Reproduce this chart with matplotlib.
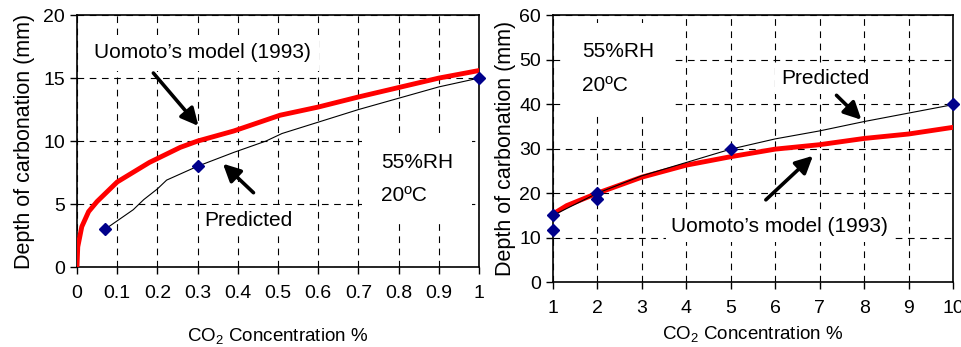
import matplotlib
matplotlib.use("Agg")
import matplotlib.pyplot as plt

plt.rcParams['font.family'] = ['Liberation Sans', 'DejaVu Sans']
plt.rcParams['mathtext.fontset'] = 'custom'
plt.rcParams['mathtext.rm'] = 'Liberation Sans'
plt.rcParams['mathtext.it'] = 'Liberation Sans:italic'

# ---- left panel: CO2 0-1 %
left_model_x = [0, 0.002, 0.012, 0.029, 0.05, 0.1, 0.18, 0.257, 0.3, 0.39, 0.505, 0.6, 0.7, 0.8, 0.9, 1.0]
left_model_y = [0, 1.6, 3.2, 4.4, 5.2, 6.75, 8.3, 9.5, 10.0, 10.8, 12.05, 12.7, 13.5, 14.25, 15.0, 15.6]
left_pred_x = [0.07, 0.14, 0.166, 0.2, 0.223, 0.3, 0.39, 0.47, 0.51, 0.6, 0.7, 0.8, 0.9, 1.0]
left_pred_y = [3.0, 4.55, 5.35, 6.2, 6.9, 8.0, 9.1, 10.0, 10.6, 11.5, 12.5, 13.4, 14.3, 15.0]
left_meas_x = [0.07, 0.3, 1.0]
left_meas_y = [3.0, 8.0, 15.0]
left_xticks = [0, 0.1, 0.2, 0.3, 0.4, 0.5, 0.6, 0.7, 0.8, 0.9, 1.0]
left_xticklabels = ['0', '0.1', '0.2', '0.3', '0.4', '0.5', '0.6', '0.7', '0.8', '0.9', '1']
left_yticks = [0, 5, 10, 15, 20]

# ---- right panel: CO2 1-10 %
right_model_x = [1, 1.31, 2, 3, 4, 5, 6, 7, 8, 9, 10]
right_model_y = [15.3, 17.2, 20.0, 23.6, 26.3, 28.2, 29.9, 30.9, 32.3, 33.3, 34.8]
right_pred_x = [1, 2, 3, 4, 5, 6, 7, 8, 10]
right_pred_y = [15.0, 20.0, 23.9, 26.9, 29.9, 32.2, 34.0, 36.1, 39.9]
right_meas_x = [1, 1, 2, 2, 5, 10]
right_meas_y = [15.0, 11.7, 20.0, 18.8, 30.0, 40.0]
right_xticks = [1, 2, 3, 4, 5, 6, 7, 8, 9, 10]
right_yticks = [0, 10, 20, 30, 40, 50, 60]

RED = '#ff0000'
NAVY = '#00008b'
FS_TICK = 14
FS_XLAB = 13.5
FS_YLAB = 15.5
FS_ANN = 15

fig = plt.figure(figsize=(9.62, 3.47), dpi=100)
ax1 = fig.add_axes([0.080, 0.2305, 0.418, 0.726])
ax2 = fig.add_axes([0.5748, 0.187, 0.4158, 0.769])


def style_axes(ax):
    ax.grid(True, color='black', linestyle=(0, (6, 5)), linewidth=0.8)
    ax.set_axisbelow(True)
    for s in ax.spines.values():
        s.set_linewidth(1.2)
        s.set_color('black')
    ax.tick_params(direction='out', length=5, width=1, labelsize=FS_TICK, colors='black')
    ax.tick_params(axis='x', pad=8)


arrow = dict(arrowstyle='-|>', color='black', lw=2.6, mutation_scale=26, shrinkA=0, shrinkB=0)
box = dict(facecolor='white', edgecolor='none', pad=4)

# left
style_axes(ax1)
ax1.plot(left_model_x, left_model_y, color=RED, lw=3.5, zorder=3)
ax1.plot(left_pred_x, left_pred_y, color='black', lw=0.8, zorder=3)
ax1.plot(left_meas_x, left_meas_y, linestyle='none', marker='D', markersize=6.5,
         color=NAVY, zorder=4, clip_on=False)
ax1.set_xlim(0, 1)
ax1.set_ylim(0, 20)
ax1.set_xticks(left_xticks)
ax1.set_xticklabels(left_xticklabels)
ax1.set_yticks(left_yticks)
ax1.set_xlabel('CO$_2$ Concentration %', fontsize=FS_XLAB, labelpad=17)
ax1.set_ylabel('Depth of carbonation (mm)', fontsize=FS_YLAB, labelpad=6)

ax1.text(0.312, 17.0, 'Uomoto\u2019s model (1993)', fontsize=FS_ANN, ha='center', va='center',
         bbox=dict(facecolor='white', edgecolor='none', pad=6), zorder=2)
ax1.annotate('', xy=(0.302, 11.2), xytext=(0.19, 15.4), arrowprops=arrow, zorder=5)
ax1.text(0.427, 3.7, 'Predicted', fontsize=FS_ANN, ha='center', va='center',
         bbox=box, zorder=2)
ax1.annotate('', xy=(0.363, 8.2), xytext=(0.439, 5.9), arrowprops=arrow, zorder=5)
ax1.text(0.756, 7.0, '55%RH\n\n20\u00baC', fontsize=FS_ANN, ha='left', va='center',
         linespacing=0.85, bbox=dict(facecolor='white', edgecolor='none', pad=14), zorder=2)

# right
style_axes(ax2)
ax2.plot(right_model_x, right_model_y, color=RED, lw=3.5, zorder=3)
ax2.plot(right_pred_x, right_pred_y, color='black', lw=0.8, zorder=3)
ax2.plot(right_meas_x, right_meas_y, linestyle='none', marker='D', markersize=6.5,
         color=NAVY, zorder=4, clip_on=False)
ax2.set_xlim(1, 10)
ax2.set_ylim(0, 60)
ax2.set_xticks(right_xticks)
ax2.set_yticks(right_yticks)
ax2.set_xlabel('CO$_2$ Concentration %', fontsize=FS_XLAB, labelpad=5)
ax2.set_ylabel('Depth of carbonation (mm)', fontsize=FS_YLAB, labelpad=2)

ax2.text(1.65, 48.0, '55%RH\n\n20\u00baC', fontsize=FS_ANN, ha='left', va='center',
         linespacing=0.85, bbox=dict(facecolor='white', edgecolor='none', pad=14), zorder=2)
ax2.text(7.12, 45.8, 'Predicted', fontsize=FS_ANN, ha='center', va='center',
         bbox=box, zorder=2)
ax2.annotate('', xy=(7.94, 36.5), xytext=(7.38, 42.0), arrowprops=arrow, zorder=5)
ax2.text(6.1, 12.5, 'Uomoto\u2019s model (1993)', fontsize=FS_ANN, ha='center', va='center',
         bbox=box, zorder=2)
ax2.annotate('', xy=(6.85, 28.4), xytext=(5.79, 18.5), arrowprops=arrow, zorder=5)

fig.savefig('out.png', dpi=100)
